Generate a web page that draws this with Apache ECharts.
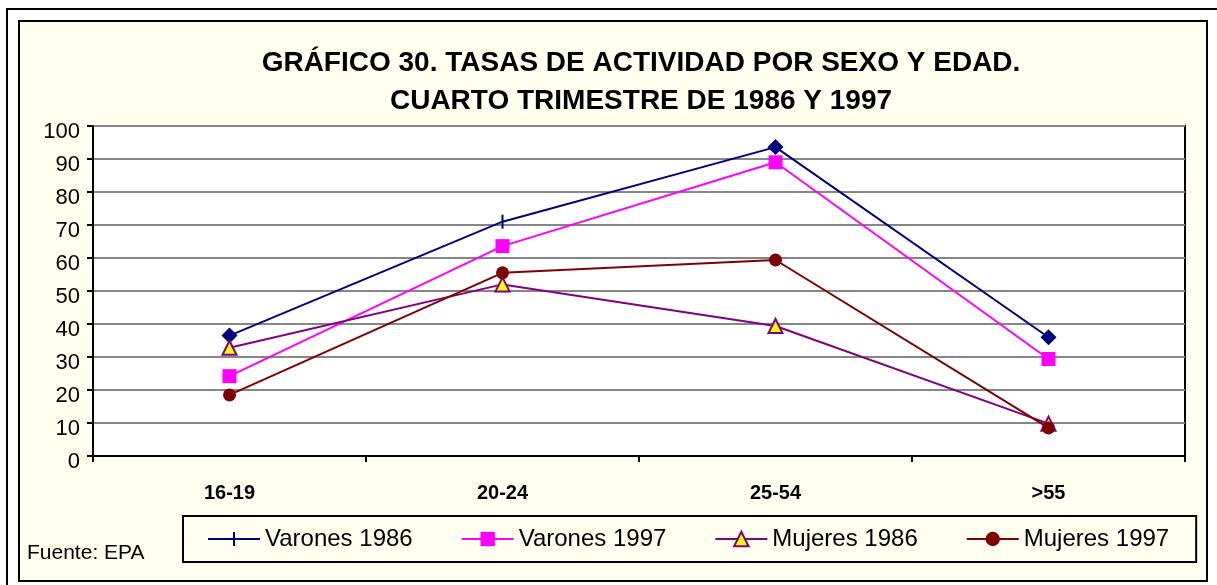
<!DOCTYPE html>
<html>
<head>
<meta charset="utf-8">
<title>Tasas de actividad por sexo y edad</title>
<script src="https://cdn.jsdelivr.net/npm/echarts@6/dist/echarts.min.js"></script>
<style>
  html, body { margin: 0; padding: 0; background: #fff; }
  #chart { width: 1217px; height: 585px; }
</style>
</head>
<body>
<div id="chart"></div>
<script>
// datos
var categories = ['16-19', '20-24', '25-54', '>55']
var varones1986 = [36.5, 71, 93.6, 36]
var varones1997 = [24.2, 63.6, 89, 29.4]
var mujeres1986 = [32.8, 52, 39.4, 9.8]
var mujeres1997 = [18.5, 55.5, 59.4, 8.5]
var titleLines = ['GRÁFICO 30. TASAS DE ACTIVIDAD POR SEXO Y EDAD.', 'CUARTO TRIMESTRE DE 1986 Y 1997']
var sourceText = 'Fuente: EPA'

// the 20-24 point of Varones 1986 is drawn as a tick in the original
var varones1986Marks = ['diamond', 'tick', 'diamond', 'diamond']

var font = '"Liberation Sans", Arial, sans-serif'

function markData (values, marks) {
  return values.map(function (v, i) {
    if (marks[i] === 'tick') {
      return { value: v, symbol: 'rect', symbolSize: [2, 14] }
    }
    return { value: v, symbol: marks[i] }
  })
}

var chart = echarts.init(document.getElementById('chart'))

var option = {
  animation: false,
  backgroundColor: '#fff',
  graphic: [
    {
      type: 'rect',
      z: -10,
      shape: { x: 7, y: 9, width: 1230, height: 600 },
      style: { fill: '#fff', stroke: '#000', lineWidth: 2 }
    },
    {
      type: 'rect',
      z: -9,
      shape: { x: 19, y: 21, width: 1188, height: 560 },
      style: { fill: '#fffff0', stroke: '#000', lineWidth: 2 }
    },
    {
      type: 'text',
      style: {
        x: 641, y: 63, text: titleLines[0], align: 'center', verticalAlign: 'middle',
        font: 'bold 28px ' + font, fill: '#000'
      }
    },
    {
      type: 'text',
      style: {
        x: 641, y: 101, text: titleLines[1], align: 'center', verticalAlign: 'middle',
        font: 'bold 28px ' + font, fill: '#000'
      }
    },
    {
      type: 'text',
      style: {
        x: 27, y: 553, text: sourceText, verticalAlign: 'middle',
        font: '21px ' + font, fill: '#000'
      }
    }
  ],
  grid: {
    left: 93,
    right: 32,
    top: 126,
    bottom: 129,
    show: true,
    backgroundColor: '#fff',
    borderColor: '#000',
    borderWidth: 2
  },
  legend: {
    left: 183,
    top: 516,
    orient: 'horizontal',
    padding: [11, 27, 11, 25],
    borderColor: '#000',
    borderWidth: 2,
    backgroundColor: '#fffff0',
    itemWidth: 52,
    itemHeight: 18,
    itemGap: 48,
    selectedMode: false,
    textStyle: { fontSize: 24, fontFamily: font, color: '#000' },
    data: [
      { name: 'Varones 1986', icon: 'path://M0,6h52v2h-52z M25,0h2v14h-2z' },
      { name: 'Varones 1997' },
      { name: 'Mujeres 1986' },
      { name: 'Mujeres 1997' }
    ]
  },
  xAxis: {
    type: 'category',
    data: categories,
    boundaryGap: true,
    axisLine: { lineStyle: { color: '#000', width: 2 } },
    axisTick: { show: true, length: 6, lineStyle: { color: '#000', width: 2 } },
    axisLabel: {
      margin: 27,
      fontSize: 20,
      fontWeight: 'bold',
      fontFamily: font,
      color: '#000'
    },
    splitLine: { show: false }
  },
  yAxis: {
    type: 'value',
    min: 0,
    max: 100,
    interval: 10,
    axisLine: { show: true, lineStyle: { color: '#000', width: 2 } },
    axisTick: { show: true, length: 6, lineStyle: { color: '#000', width: 2 } },
    axisLabel: {
      margin: 13,
      fontSize: 22,
      fontFamily: font,
      color: '#000',
      verticalAlign: 'top',
      lineHeight: 12
    },
    splitLine: { show: true, lineStyle: { color: '#868686', width: 2 } }
  },
  series: [
    {
      name: 'Varones 1986',
      type: 'line',
      data: markData(varones1986, varones1986Marks),
      symbolSize: 16,
      lineStyle: { color: '#000080', width: 2 },
      itemStyle: { color: '#000080' }
    },
    {
      name: 'Varones 1997',
      type: 'line',
      data: varones1997,
      symbol: 'rect',
      symbolSize: 14,
      lineStyle: { color: '#ff00ff', width: 2 },
      itemStyle: { color: '#ff00ff' }
    },
    {
      name: 'Mujeres 1986',
      type: 'line',
      data: mujeres1986,
      symbol: 'triangle',
      symbolSize: 14,
      lineStyle: { color: '#800080', width: 2 },
      itemStyle: { color: '#ffff00', borderColor: '#800080', borderWidth: 2 }
    },
    {
      name: 'Mujeres 1997',
      type: 'line',
      data: mujeres1997,
      symbol: 'circle',
      symbolSize: 13,
      lineStyle: { color: '#800000', width: 2 },
      itemStyle: { color: '#800000' }
    }
  ]
}

chart.setOption(option)
</script>
</body>
</html>
